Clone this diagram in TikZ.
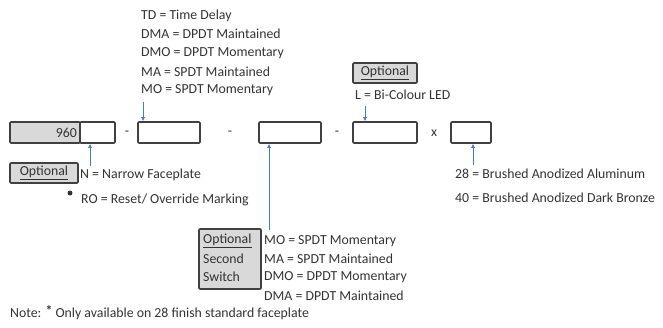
\documentclass[tikz,border=0pt]{standalone}
\usepackage{fontspec}
\setmainfont{Carlito}
\usetikzlibrary{arrows.meta}
\definecolor{txt}{HTML}{333333}
\definecolor{bord}{HTML}{404040}
\definecolor{boxfill}{HTML}{D9D9D9}
\definecolor{arrblue}{HTML}{4A78C8}
\tikzset{
  every node/.style={font=\fontsize{13.8}{15}\selectfont, text=txt, inner sep=0pt},
  codebox/.style={draw=bord, line width=1.6pt, rounded corners=1pt, minimum height=21pt, fill=white},
  graybox/.style={draw=bord, line width=1.6pt, rounded corners=1pt, fill=boxfill},
  lbl/.style={anchor=west},
  arr/.style={draw=arrblue, line width=0.6pt, -{Latex[length=4pt,width=4pt]}},
}
\begin{document}
\begin{tikzpicture}[x=1pt,y=-1pt]
\useasboundingbox (0,0) rectangle (663,327);
% code boxes
\node[codebox, fill=boxfill, minimum width=70pt] (b1g) at (45,132.5) {};
\node[codebox, minimum width=35pt] (b1w) at (97.5,132.5) {};
\node[anchor=east] (n960) at (77,133) {960};
\node (d1) at (127,133) {-};
\node[codebox, minimum width=62pt] (b2) at (169,132.5) {};
\node (d2) at (230,133) {-};
\node[codebox, minimum width=62pt] (b3) at (290,132.5) {};
\node (d3) at (337,133) {-};
\node[codebox, minimum width=64pt] (b4) at (385,132.5) {};
\node (xx) at (434,133) {x};
\node[codebox, minimum width=40pt] (b5) at (471,132.5) {};
% top list
\node[lbl] (t1) at (141,16) {TD = Time Delay};
\node[lbl] (t2) at (141,34) {DMA = DPDT Maintained};
\node[lbl] (t3) at (141,53) {DMO = DPDT Momentary};
\node[lbl] (t4) at (141,72) {MA = SPDT Maintained};
\node[lbl] (t5) at (141,90) {MO = SPDT Momentary};
\coordinate (a2) at (143,102);
\draw[arr] (a2) -- (a2 |- b2.north);
% LED option
\node[graybox, minimum width=64pt, minimum height=20pt] (opt4) at (385,73) {\underline{Optional}};
\node[lbl] (l4) at (355,95) {L = Bi-Colour LED};
\coordinate (a4) at (365,106);
\draw[arr] (a4) -- (a4 |- b4.north);
% narrow faceplate
\node[graybox, minimum width=68pt, minimum height=20pt] (opt1) at (44,173) {\underline{Optional}\hspace{12pt}};
\node[lbl] (n1) at (80,175) {N = Narrow Faceplate};
\coordinate (a1) at (90,166);
\draw[arr] (a1) -- (a1 |- b1w.south);
\node[circle, fill=txt, minimum size=5pt] (dot) at (70,193) {};
\node[lbl] (ro) at (81,200) {RO = Reset/ Override Marking};
% finish
\node[lbl] (f28) at (455,174) {28 = Brushed Anodized Aluminum};
\node[lbl] (f40) at (455,198) {40 = Brushed Anodized Dark Bronze};
\coordinate (a5) at (473,165);
\draw[arr] (a5) -- (a5 |- b5.south);
% second switch
\node[graybox, minimum width=62pt, minimum height=60pt] (opt3) at (230,259) {};
\node[lbl] (s1) at (203,241) {\underline{Optional}};
\node[lbl] (s2) at (203,259) {Second};
\node[lbl] (s3) at (203,277) {Switch};
\node[lbl] (m1) at (264,241) {MO = SPDT Momentary};
\node[lbl] (m2) at (264,259) {MA = SPDT Maintained};
\node[lbl] (m3) at (264,277) {DMO = DPDT Momentary};
\node[lbl] (m4) at (264,296) {DMA = DPDT Maintained};
\coordinate (a3) at (269,230);
\draw[arr] (a3) -- (a3 |- b3.south);
% note
\node[lbl] (note) at (10,313) {Note: \raisebox{2pt}{\textbf{*}} Only available on 28 finish standard faceplate};
\end{tikzpicture}
\end{document}
